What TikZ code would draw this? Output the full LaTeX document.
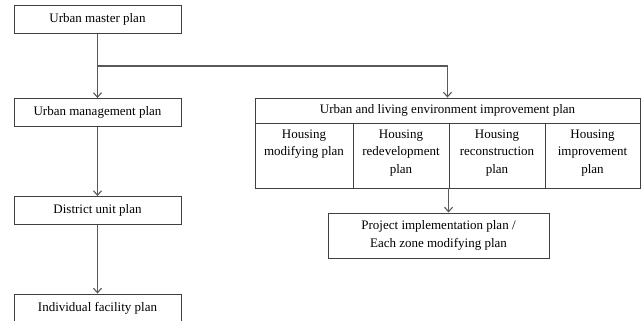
\documentclass[tikz,border=0pt]{standalone}
\usepackage{fontspec}
\setmainfont{Liberation Serif}
\usetikzlibrary{arrows.meta}

\begin{document}
\begin{tikzpicture}[x=1pt,y=-1pt,->,>={Straight Barb[length=4.5pt,width=8pt]},line width=1.1pt,draw=black!65,
                    plan node/.style={rectangle,draw=black!75,line width=0.9pt,-,fill=white,minimum width=167pt,
                      minimum height=28pt,inner sep=0pt,font=\fontsize{13}{17.5}\selectfont},
                    cell node/.style={plan node,minimum height=65pt,align=center,text depth=8pt}]
  \useasboundingbox[fill=white] (0,0) rectangle (642,321);

  \node[plan node] (master) at (97.5,19.5) {Urban master plan};
  \node[plan node] (manage) at (97.5,112.5) {Urban management plan};
  \node[plan node] (district) at (97.5,210.5) {District unit plan};
  \node[plan node] (facility) at (97.5,308) {Individual facility plan};

  \node[plan node,minimum width=385pt,minimum height=25pt] (title) at (447.5,110.5)
    {Urban and living environment improvement plan};
  \node[cell node,minimum width=98pt] (cell1) at (304,155.5) {Housing\\modifying plan\\\strut};
  \node[cell node,minimum width=96pt] (cell2) at (401,155.5) {Housing\\redevelopment\\plan};
  \node[cell node,minimum width=96pt] (cell3) at (497,155.5) {Housing\\reconstruction\\plan};
  \node[cell node,minimum width=95pt] (cell4) at (592.5,155.5) {Housing\\improvement\\plan};

  \node[plan node,minimum width=221pt,minimum height=45pt,align=center] (project) at (438.5,235.5)
    {Project implementation plan /\\Each zone modifying plan};

  \coordinate (branch) at (97.5,66);

  \path
    (master) edge (manage)
    (manage) edge (district)
    (district) edge (facility);
  \draw (branch) -| (title.north);
  \draw (cell3.south west) -- (cell3.south west |- project.north);
\end{tikzpicture}
\end{document}
